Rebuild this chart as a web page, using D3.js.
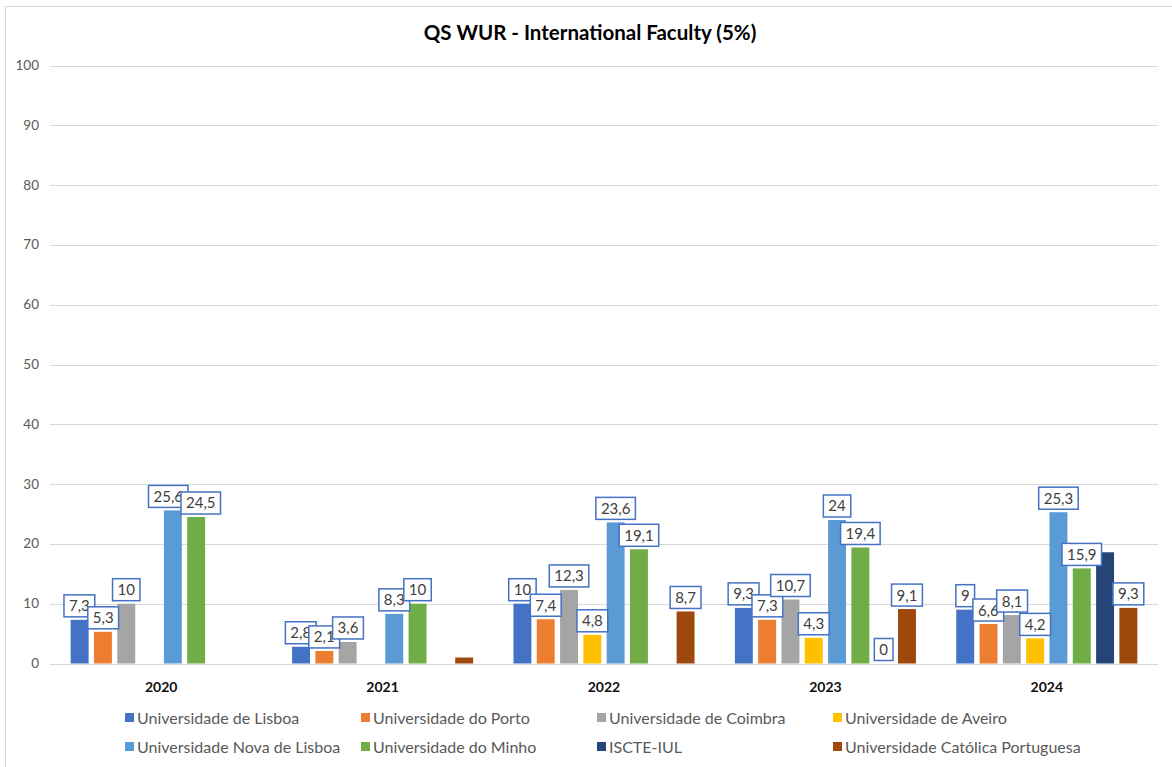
<!DOCTYPE html>
<html>
<head>
<meta charset="utf-8">
<script src="https://cdn.jsdelivr.net/npm/d3@7"></script>
<style>
  body { margin: 0; background: #fff; }
  svg { display: block; font-family: Lato, "Open Sans", sans-serif; }
</style>
</head>
<body>
<svg id="chart"></svg>
<script>
// data
const years = ["2020", "2021", "2022", "2023", "2024"];
const universities = [
  "Universidade de Lisboa", "Universidade do Porto", "Universidade de Coimbra", "Universidade de Aveiro",
  "Universidade Nova de Lisboa", "Universidade do Minho", "ISCTE-IUL", "Universidade Católica Portuguesa"
];
const colors = ["#4472C4", "#ED7D31", "#A5A5A5", "#FFC000", "#5B9BD5", "#70AD47", "#264478", "#9E480E"];

const lisboa     = [7.3, 2.8, 10, 9.3, 9];
const porto      = [5.3, 2.1, 7.4, 7.3, 6.6];
const coimbra    = [10, 3.6, 12.3, 10.7, 8.1];
const aveiro     = [null, null, 4.8, 4.3, 4.2];
const novaLisboa = [25.6, 8.3, 23.6, 24, 25.3];
const minho      = [24.5, 10, 19.1, 19.4, 15.9];
const iscte      = [null, null, null, 0, 18.6];
const catolica   = [null, 1, 8.7, 9.1, 9.3];

// bars that have no data label in the original
const unlabeled = ["2021|Universidade Católica Portuguesa", "2024|ISCTE-IUL"];
const yTicks = d3.range(0, 101, 10);

const seriesValues = [lisboa, porto, coimbra, aveiro, novaLisboa, minho, iscte, catolica];

const W = 1172, H = 767;
const svg = d3.select("#chart").attr("width", W).attr("height", H);

// chart frame
svg.append("rect")
  .attr("x", 5.5).attr("y", 6.5)
  .attr("width", W + 20).attr("height", H + 20)
  .attr("fill", "#fff").attr("stroke", "#d9d9d9");

svg.append("text")
  .attr("x", 590).attr("y", 40)
  .attr("text-anchor", "middle")
  .attr("font-size", 20.5).attr("font-weight", "bold")
  .attr("fill", "#000")
  .text("QS WUR - International Faculty (5%)");

const x0 = d3.scaleBand().domain(years).range([50.5, 1157.5]);
const x1 = d3.scaleBand().domain(universities).range([0, x0.bandwidth()])
  .paddingInner(0.23).paddingOuter(0.865);
const y = d3.scaleLinear().domain([0, 100]).range([663.5, 65.5]);

// gridlines + y labels
const grid = svg.append("g");
grid.selectAll("line").data(yTicks).join("line")
  .attr("x1", 50).attr("x2", 1158)
  .attr("y1", d => Math.round(y(d)) + 0.5).attr("y2", d => Math.round(y(d)) + 0.5)
  .attr("stroke", "#d9d9d9").attr("stroke-width", 1);
grid.selectAll("text").data(yTicks).join("text")
  .attr("x", 39).attr("y", d => y(d) + 4.5)
  .attr("text-anchor", "end")
  .attr("font-size", 13.5).attr("fill", "#595959")
  .text(d => d);

// category labels
svg.append("g").selectAll("text").data(years).join("text")
  .attr("x", d => x0(d) + x0.bandwidth() / 2)
  .attr("y", 692)
  .attr("text-anchor", "middle")
  .attr("font-size", 14).attr("font-weight", "bold").attr("fill", "#111")
  .text(d => d);

// bars
const cells = [];
universities.forEach((u, si) => {
  years.forEach((yr, yi) => {
    const v = seriesValues[si][yi];
    if (v === null) return;
    cells.push({ year: yr, uni: u, si, value: v });
  });
});

svg.append("g").selectAll("rect").data(cells).join("rect")
  .attr("x", d => x0(d.year) + x1(d.uni))
  .attr("y", d => y(d.value))
  .attr("width", x1.bandwidth())
  .attr("height", d => y(0) - y(d.value))
  .attr("fill", d => colors[d.si]);

// data labels (white box, blue border), later series on top
const fmt = v => String(v).replace(".", ",");
const labelData = cells.filter(d => !unlabeled.includes(d.year + "|" + d.uni));
labelData.forEach(d => {
  d.cx = x0(d.year) + x1(d.uni) + x1.bandwidth() / 2;
  d.cy = y(d.value) - 14;
});

const labels = svg.append("g").selectAll("g")
  .data(labelData)
  .join("g");
labels.append("rect");
labels.append("text")
  .attr("text-anchor", "middle")
  .attr("y", 5.5)
  .attr("font-size", 15).attr("fill", "#404040")
  .text(d => fmt(d.value));
labels.each(function (d) {
  d.tw = d3.select(this).select("text").node().getComputedTextLength();
});

// nudge neighbouring labels whose texts would collide
years.forEach(yr => {
  const row = labelData.filter(d => d.year === yr).sort((a, b) => a.cx - b.cx);
  for (let i = 1; i < row.length; i++) {
    const a = row[i - 1], b = row[i];
    if (Math.abs(a.cy - b.cy) > 16) continue;
    const gap = (b.cx - b.tw / 2) - (a.cx + a.tw / 2);
    if (gap < 3) {
      const push = (3 - gap) / 2;
      a.cx -= push;
      b.cx += push;
    }
  }
});

labels.attr("transform", d => `translate(${d.cx},${d.cy})`);
labels.each(function (d) {
  const w = d.tw + 10;
  d3.select(this).select("rect")
    .attr("x", -w / 2).attr("y", -11)
    .attr("width", w).attr("height", 22)
    .attr("fill", "#fff").attr("stroke", "#4472C4").attr("stroke-width", 1.5);
});

// legend
const legend = svg.append("g").selectAll("g").data(universities).join("g")
  .attr("transform", (d, i) => `translate(${125 + (i % 4) * 236},${i < 4 ? 718 : 747})`);
legend.append("rect")
  .attr("x", 0).attr("y", -5)
  .attr("width", 9).attr("height", 9)
  .attr("fill", (d, i) => colors[i]);
legend.append("text")
  .attr("x", 12).attr("y", 5.5)
  .attr("font-size", 16).attr("fill", "#595959")
  .text(d => d);
</script>
</body>
</html>
